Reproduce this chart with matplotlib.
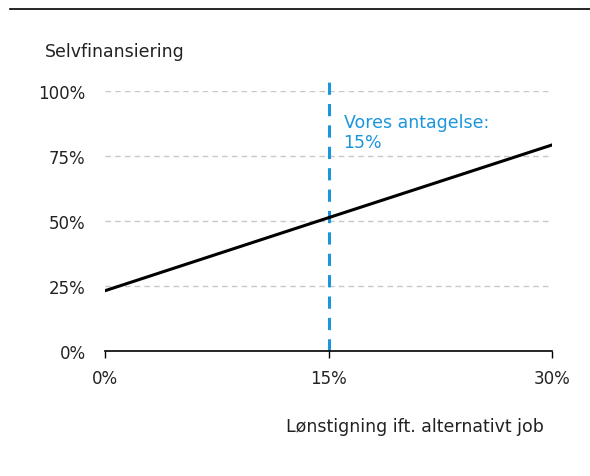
import matplotlib.pyplot as plt
from matplotlib.lines import Line2D

# Data
wage_rise = [0, 15, 30]            # Lønstigning ift. alternativt job (%)
self_financing = [23.2, 51.3, 79.3]  # Selvfinansiering (%)
assumption = 15
x_ticks = [0, 15, 30]
y_ticks = [0, 25, 50, 75, 100]

blue = "#1b96dc"
plt.rcParams["font.family"] = ["DejaVu Sans"]

fig = plt.figure(figsize=(5.9, 4.77), dpi=100)
ax = fig.add_axes([0.178, 0.262, 0.758, 0.545])

# horizontal rule across the top of the figure
fig.add_artist(Line2D([0.017, 1.0], [0.979, 0.979], color="black", linewidth=1.2))

for y in y_ticks[1:]:
    ax.axhline(y, color="#c8c8c8", linewidth=1, linestyle=(0, (4, 3)), zorder=1)

ax.plot(wage_rise, self_financing, color="black", linewidth=2.2, zorder=3)
ax.plot([assumption, assumption], [0, 104.6], color=blue, linewidth=2.2,
        linestyle=(0, (4, 3)), clip_on=False, zorder=2)
ax.text(assumption + 1.0, 91.5, "Vores antagelse:\n15%", color=blue, fontsize=12.5,
        va="top", ha="left", linespacing=1.1)

ax.set_xlim(0, 30)
ax.set_ylim(0, 100)
ax.set_xticks(x_ticks)
ax.set_xticklabels([f"{v}%" for v in x_ticks], fontsize=12, color="#222222")
ax.set_yticks(y_ticks)
ax.set_yticklabels([f"{v}%" for v in y_ticks], fontsize=12, color="#222222")
ax.tick_params(axis="y", length=0, pad=14)
ax.tick_params(axis="x", length=5, width=1, direction="out", pad=8)

for side in ["top", "right", "left"]:
    ax.spines[side].set_visible(False)
ax.spines["bottom"].set_linewidth(1.2)

fig.text(0.076, 0.891, "Selvfinansiering", fontsize=12.5, color="#222222", va="center")
fig.text(0.922, 0.105, "Lønstigning ift. alternativt job", fontsize=12.5,
         color="#222222", ha="right", va="center")

fig.savefig("out.png", dpi=100)
